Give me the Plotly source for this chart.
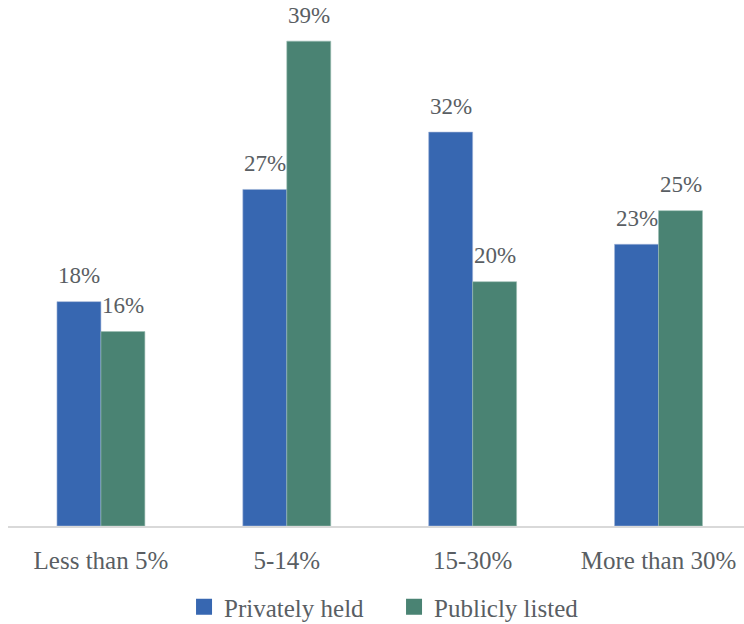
import plotly.graph_objects as go

categories = ["Less than 5%", "5-14%", "15-30%", "More than 30%"]
privately_held = [18.0, 27.0, 31.6, 22.6]
publicly_listed = [15.6, 38.9, 19.6, 25.3]
series_names = ["Privately held", "Publicly listed"]

BLUE = "#3767B1"
GREEN = "#4A8373"
TEXT = "#595E63"
FONT = "Liberation Serif"
FS = 25
FS_LBL = 23

fig = go.Figure()
fig.add_trace(go.Bar(x=categories, y=privately_held, name=series_names[0], showlegend=False,
                     marker=dict(color=BLUE, line=dict(color="#9fb3d6", width=0.6))))
fig.add_trace(go.Bar(x=categories, y=publicly_listed, name=series_names[1], showlegend=False,
                     marker=dict(color=GREEN, line=dict(color="#9cbdb3", width=0.6))))
# legend entries with larger square swatches
for name, col in zip(series_names, (BLUE, GREEN)):
    fig.add_trace(go.Scatter(x=[None], y=[None], mode="markers", name=name,
                             marker=dict(symbol="square", size=16, color=col)))

for vals, shift in ((privately_held, -22), (publicly_listed, 22)):
    for c, v in zip(categories, vals):
        fig.add_annotation(x=c, y=v, text=f"{round(v)}%", showarrow=False,
                           xshift=shift, yshift=26, yanchor="middle",
                           font=dict(family=FONT, size=FS_LBL, color=TEXT))

fig.update_layout(
    width=744, height=624,
    margin=dict(l=8, r=0, t=0, b=98, autoexpand=False),
    paper_bgcolor="white", plot_bgcolor="white",
    barmode="group", bargap=0.527, bargroupgap=0,
    font=dict(family=FONT, size=FS, color=TEXT),
    showlegend=True,
    legend=dict(orientation="h", x=0.5245, xanchor="center", y=-0.154, yanchor="middle",
                font=dict(family=FONT, size=FS, color=TEXT), itemwidth=30,
                entrywidth=165, entrywidthmode="pixels", tracegroupgap=0),
    xaxis=dict(range=[-0.5, 3.46], showline=True, linecolor="#D9D9D9", linewidth=1.5,
               showgrid=False, zeroline=False, ticks="", ticklabelstandoff=11,
               automargin=False,
               tickfont=dict(family=FONT, size=FS, color=TEXT)),
    yaxis=dict(range=[0, 42.2], visible=False, showgrid=False, zeroline=False),
)

fig.write_html("out.html")
